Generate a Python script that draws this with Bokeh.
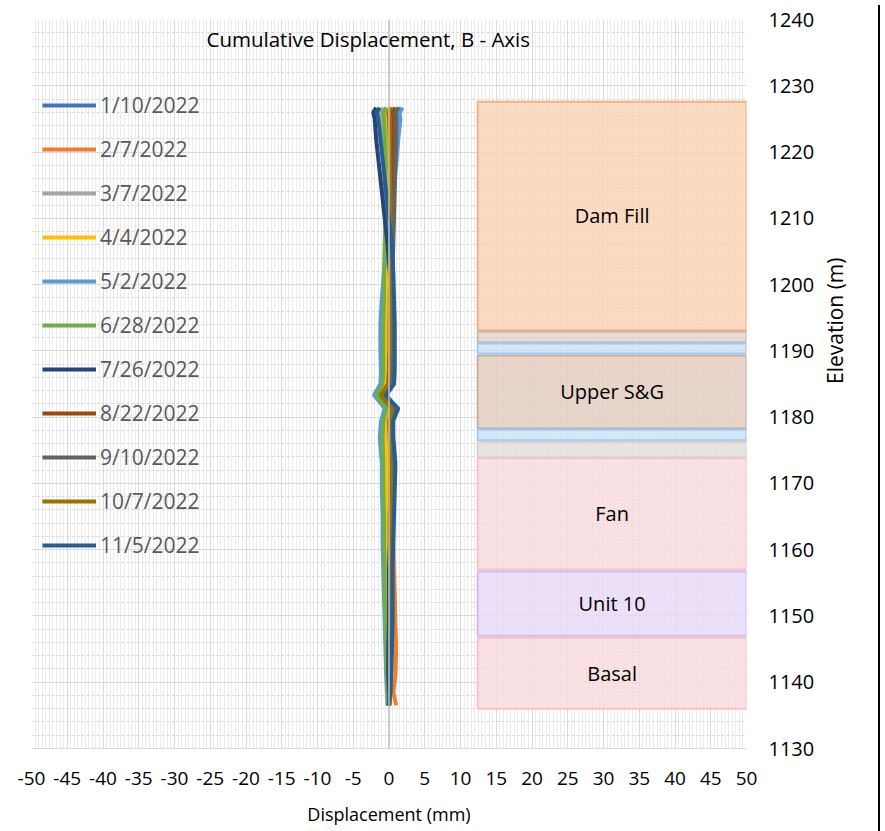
import math
from bokeh.plotting import figure
from bokeh.models import (SingleIntervalTicker, Span, Label, Legend, LegendItem,
                          ColumnDataSource, Range1d, Div, CustomJSTickFormatter)
from bokeh.layouts import row
from bokeh.core.properties import value
from bokeh.embed import file_html
from bokeh.resources import INLINE

# ---------------- data ----------------
elev = [1226.7, 1226.0, 1225.0, 1222, 1218, 1214, 1210, 1206, 1202, 1198, 1194, 1190,
        1187, 1185, 1183.3, 1182.3, 1181.3, 1179.5, 1177, 1173, 1169, 1165, 1161,
        1157, 1153, 1149, 1145, 1141, 1138.5, 1136.5]

dates = ["1/10/2022", "2/7/2022", "3/7/2022", "4/4/2022", "5/2/2022", "6/28/2022",
         "7/26/2022", "8/22/2022", "9/10/2022", "10/7/2022", "11/5/2022"]
colors = ["#4472C4", "#ED7D31", "#A5A5A5", "#FFC000", "#5B9BD5", "#70AD47",
          "#264478", "#9E480E", "#636363", "#997300", "#255E91"]

d_0110 = [1.6, 1.1, 1.2, 1.0, 0.7, 0.4, 0.1, -0.1, -0.3, -0.4, -0.5, -0.5, -0.5, -0.6, -1.7,
          -0.8, 0.0, -0.5, -0.6, -0.5, -0.5, -0.4, -0.4, -0.3, -0.3, -0.2, -0.2, -0.1, 0.0, 0.0]
d_0207 = [0.6, 0.2, 0.3, 0.3, 0.2, 0.1, 0.0, 0.0, -0.1, -0.1, -0.1, -0.1, -0.1, -0.2, -1.2,
          -0.3, 0.5, 0.2, 0.3, 0.4, 0.5, 0.6, 0.6, 0.7, 0.8, 0.9, 1.0, 0.9, 0.6, 1.0]
d_0307 = [-0.8, -1.2, -1.1, -0.9, -0.7, -0.6, -0.5, -0.5, -0.5, -0.5, -0.5, -0.6, -0.6, -0.7,
          -1.6, -0.8, 0.0, -0.5, -0.6, -0.5, -0.4, -0.4, -0.3, -0.3, -0.2, -0.2, -0.1, 0.0,
          0.0, 0.0]
d_0404 = [0.0, -0.4, -0.3, -0.3, -0.3, -0.3, -0.3, -0.3, -0.4, -0.4, -0.4, -0.4, -0.5, -0.6,
          -1.5, -0.6, 0.2, -0.4, -0.5, -0.3, -0.3, -0.3, -0.2, -0.2, -0.1, -0.1, 0.0, 0.0,
          0.1, 0.0]
d_0502 = [1.9, 1.5, 1.6, 1.3, 1.0, 0.6, 0.2, -0.3, -0.7, -1.0, -1.2, -1.2, -1.1, -1.2, -2.1,
          -1.3, -0.6, -1.1, -1.3, -1.0, -1.0, -0.9, -0.9, -0.8, -0.7, -0.6, -0.5, -0.4, -0.3,
          -0.2]
d_0628 = [-0.4, -0.8, -0.7, -0.6, -0.5, -0.5, -0.5, -0.6, -0.7, -0.7, -0.8, -0.8, -0.8, -0.9,
          -1.8, -1.0, -0.3, -0.8, -0.9, -0.8, -0.8, -0.7, -0.7, -0.6, -0.6, -0.5, -0.4, -0.3,
          -0.2, -0.1]
d_0726 = [-1.8, -2.2, -2.0, -1.8, -1.4, -1.0, -0.6, -0.2, 0.1, 0.3, 0.4, 0.4, 0.3, 0.2, -0.9,
          0.0, 0.8, 0.3, 0.2, 0.3, 0.2, 0.1, 0.1, 0.0, 0.0, 0.0, -0.1, -0.1, 0.0, 0.0]
d_0822 = [0.9, 0.5, 0.6, 0.6, 0.5, 0.4, 0.3, 0.3, 0.2, 0.2, 0.1, 0.1, 0.0, -0.1, -1.1, -0.2,
          0.6, 0.1, 0.1, 0.2, 0.2, 0.2, 0.2, 0.2, 0.3, 0.3, 0.3, 0.2, 0.1, 0.0]
d_0910 = [1.3, 0.9, 1.0, 1.0, 0.9, 0.8, 0.7, 0.6, 0.5, 0.4, 0.4, 0.3, 0.3, 0.2, -0.8, 0.0,
          0.8, 0.4, 0.4, 0.5, 0.5, 0.4, 0.4, 0.3, 0.3, 0.3, 0.2, 0.2, 0.1, 0.0]
d_1007 = [0.3, -0.1, 0.0, 0.1, 0.1, 0.2, 0.2, 0.2, 0.2, 0.1, 0.1, 0.1, 0.0, -0.1, -1.2, -0.4,
          0.4, 0.0, 0.1, 0.2, 0.3, 0.3, 0.3, 0.3, 0.4, 0.4, 0.4, 0.3, 0.2, 0.1]
d_1105 = [-1.3, -1.7, -1.5, -1.2, -0.8, -0.4, 0.0, 0.4, 0.6, 0.7, 0.8, 0.8, 0.8, 0.7, -0.4,
          0.4, 1.3, 0.6, 0.6, 0.9, 0.8, 0.7, 0.6, 0.5, 0.5, 0.5, 0.4, 0.3, 0.2, -0.1]
series = [d_0110, d_0207, d_0307, d_0404, d_0502, d_0628, d_0726, d_0822, d_0910, d_1007, d_1105]

layer_names = ["Dam Fill", "", "", "Upper S&G", "", "", "Fan", "Unit 10", "Basal"]
layer_top = [1227.6, 1192.9, 1191.1, 1189.3, 1178.1, 1176.3, 1173.8, 1156.7, 1146.7]
layer_bottom = [1193.1, 1191.3, 1189.6, 1178.3, 1176.5, 1173.9, 1157.0, 1147.0, 1136.0]
layer_left = [12.4] * 9
layer_right = [50.0] * 9
layer_fill = ["#FAD3B4", "#E3D3CB", "#C9E2F8", "#E2CCBF", "#C9E2F8", "#E3DEDC",
              "#F9DADC", "#E9D9F7", "#F9DADC"]
layer_line = ["#F4B183", "#CDB8AD", "#9DCBF3", "#C9AE9E", "#9DCBF3", "#D6D0CD",
              "#F6C3C6", "#D6B8F2", "#F6C3C6"]

x_ticks_interval = 5
y_ticks_interval = 10

FONT = "Open Sans"

# ---------------- figure ----------------
p = figure(width=873, height=831, x_range=Range1d(-50, 50), y_range=Range1d(1130, 1240),
           y_axis_location="right", output_backend="svg", toolbar_location=None,
           min_border_left=31, min_border_right=127, min_border_top=19, min_border_bottom=83)
p.outline_line_color = None
p.background_fill_color = "white"

xt = SingleIntervalTicker(interval=x_ticks_interval, num_minor_ticks=10)
yt = SingleIntervalTicker(interval=y_ticks_interval, num_minor_ticks=5)
p.xaxis.ticker = xt
p.yaxis.ticker = yt
p.xgrid.ticker = xt
p.ygrid.ticker = yt
p.xaxis.formatter = CustomJSTickFormatter(code="return String(tick);")
p.yaxis.formatter = CustomJSTickFormatter(code="return String(tick);")

p.xgrid.grid_line_color = "#D9D9D9"
p.xgrid.minor_grid_line_color = "#EBEBEB"
p.ygrid.grid_line_color = "#D9D9D9"
p.ygrid.minor_grid_line_color = "#D9D9D9"
p.ygrid.minor_grid_line_dash = "3 2"

for ax in (p.xaxis[0], p.yaxis[0]):
    ax.major_tick_line_color = None
    ax.minor_tick_line_color = None
    ax.major_label_text_font = FONT
    ax.major_label_text_color = "#000000"
    ax.axis_label_text_font = FONT
    ax.axis_label_text_font_style = "normal"
    ax.axis_label_text_color = "#000000"

p.xaxis.axis_line_color = "#D9D9D9"
p.xaxis.major_label_text_font_size = "19px"
p.xaxis.major_label_standoff = 17
p.xaxis.axis_label = "Displacement (mm)"
p.xaxis.axis_label_text_font_size = "18px"
p.xaxis.axis_label_standoff = 14

p.yaxis.axis_line_color = None
p.yaxis.major_label_text_font_size = "20px"
p.yaxis.major_label_standoff = 16
p.yaxis.axis_label = "Elevation (m)"
p.yaxis.axis_label_text_font_size = "21px"
p.yaxis.axis_label_standoff = 18
p.yaxis.axis_label_orientation = math.pi / 2

# layers
lsrc = ColumnDataSource(dict(left=layer_left, right=layer_right, top=layer_top,
                             bottom=layer_bottom, fill=layer_fill, line=layer_line,
                             name=layer_names,
                             cx=[(a + b) / 2 for a, b in zip(layer_left, layer_right)],
                             cy=[(a + b) / 2 for a, b in zip(layer_top, layer_bottom)]))
p.quad(left="left", right="right", top="top", bottom="bottom", source=lsrc,
       fill_color="fill", fill_alpha=0.8, line_color="line", line_width=2)
p.text(x="cx", y="cy", text="name", source=lsrc, text_font=value(FONT),
       text_font_size="20px", text_align="center", text_baseline="middle",
       text_color="#000000")

# zero line
p.add_layout(Span(location=0, dimension="height", line_color="#BFBFBF", line_width=1.5))

# traces
items = []
for name, col, vals in zip(dates, colors, series):
    r = p.line(x=vals, y=elev, line_color=col, line_width=4)
    items.append(LegendItem(label=name, renderers=[r]))

legend = Legend(items=items, location=(11, 188), padding=0, margin=0,
                glyph_width=54, glyph_height=30, label_height=30, spacing=14,
                label_standoff=4, label_text_font=FONT, label_text_font_size="21px",
                label_text_color="#595959", background_fill_alpha=0,
                border_line_alpha=0)
p.add_layout(legend)

p.add_layout(Label(x=-2.9, y=1237.1, text="Cumulative Displacement, B - Axis",
                   text_font=FONT, text_font_size="20.5px", text_align="center",
                   text_baseline="middle", text_color="#000000"))

bar = Div(width=2, height=831, styles={"background-color": "black"})
layout = row(p, bar, spacing=0)

open("out.html", "w").write(file_html(layout, INLINE))
